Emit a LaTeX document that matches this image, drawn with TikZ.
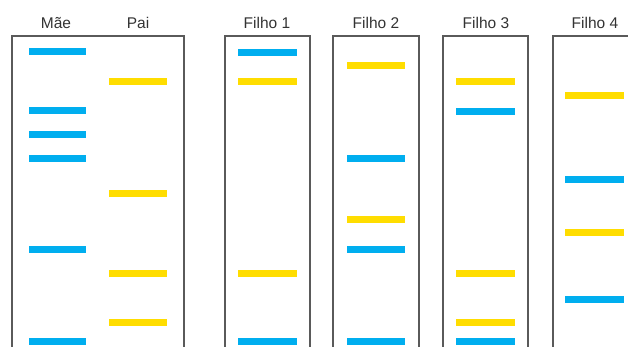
\documentclass[tikz,border=0pt]{standalone}
\usepackage{fontspec}
\setmainfont{Liberation Sans}
\definecolor{bandblue}{HTML}{00AEEF}
\definecolor{bandyellow}{HTML}{FFDD00}
\definecolor{lanegray}{HTML}{5A5A5A}
\definecolor{labelgray}{HTML}{333333}
\tikzset{
  lane/.style={draw=lanegray, line width=1.3pt},
  mband/.style={bandblue, line width=7pt},
  pband/.style={bandyellow, line width=7pt},
  lanelabel/.style={anchor=base, text=labelgray, font=\fontsize{15.5}{18}\selectfont, inner sep=0pt}
}
\begin{document}
\begin{tikzpicture}[x=1pt, y=-1pt]
\useasboundingbox (0,0) rectangle (628,347);
\clip (0,0) rectangle (628,347);
% gel lanes (open at the bottom edge)
\draw[lane] (12,360) -- (12,36) -- (184,36) -- (184,360);
\draw[lane] (225,360) -- (225,36) -- (310,36) -- (310,360);
\draw[lane] (333,360) -- (333,36) -- (419,36) -- (419,360);
\draw[lane] (443,360) -- (443,36) -- (528,36) -- (528,360);
\draw[lane] (553,360) -- (553,36) -- (640,36);
% labels
\node[lanelabel] (mae) at (56,29) {Mãe};
\node[lanelabel] (pai) at (138,29) {Pai};
\node[lanelabel] (f1) at (267,29) {Filho 1};
\node[lanelabel] (f2) at (376,29) {Filho 2};
\node[lanelabel] (f3) at (486,29) {Filho 3};
\node[lanelabel] (f4) at (595,29) {Filho 4};
% mother bands
\foreach \y in {52,111,135,159,249.5,341}
  \draw[mband] (29,\y) -- (86,\y);
% father bands
\foreach \y in {81.5,194,273,322}
  \draw[pband] (109,\y) -- (167,\y);
% child 1
\draw[mband] (238,52.5) -- (297,52.5);
\draw[pband] (238,82) -- (297,82);
\draw[pband] (238,273) -- (297,273);
\draw[mband] (238,341) -- (297,341);
% child 2
\draw[pband] (347,65.5) -- (405,65.5);
\draw[mband] (347,159) -- (405,159);
\draw[pband] (347,219) -- (405,219);
\draw[mband] (347,249.5) -- (405,249.5);
\draw[mband] (347,341) -- (405,341);
% child 3
\draw[pband] (456,82) -- (515,82);
\draw[mband] (456,111.5) -- (515,111.5);
\draw[pband] (456,273) -- (515,273);
\draw[pband] (456,322) -- (515,322);
\draw[mband] (456,341) -- (515,341);
% child 4
\draw[pband] (565,95.5) -- (624,95.5);
\draw[mband] (565,180) -- (624,180);
\draw[pband] (565,232) -- (624,232);
\draw[mband] (565,299.5) -- (624,299.5);
\end{tikzpicture}
\end{document}
